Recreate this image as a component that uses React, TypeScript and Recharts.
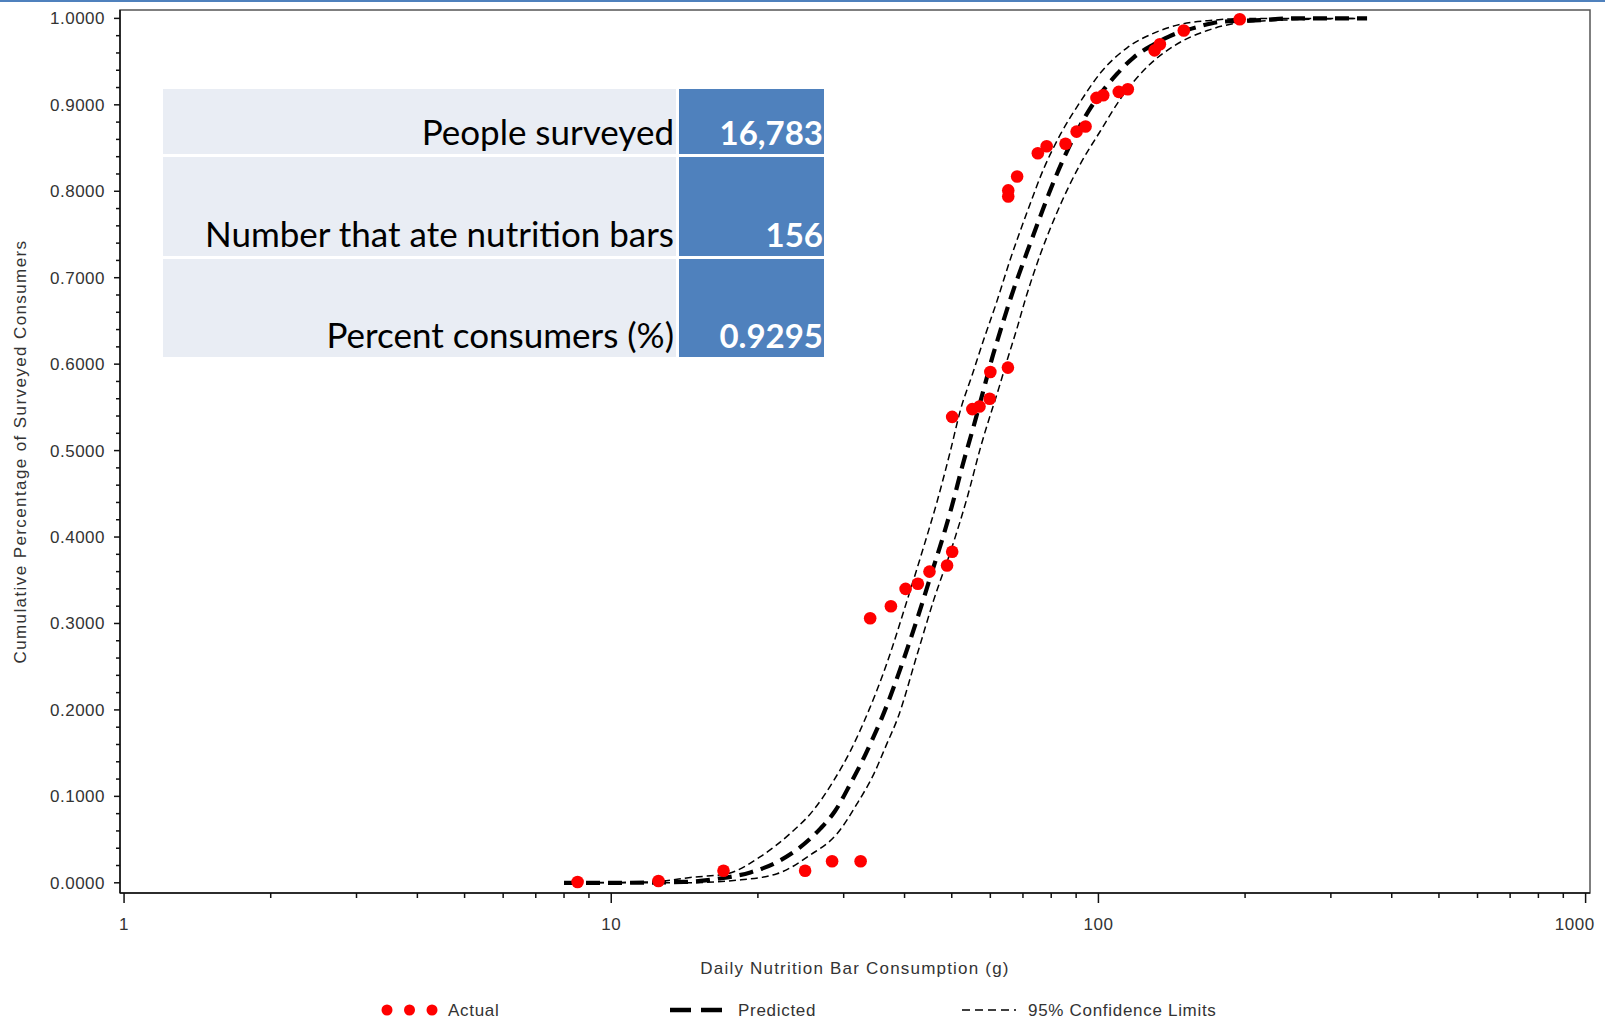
import { ComposedChart, Line, Scatter, XAxis, YAxis, ReferenceArea } from 'recharts';

// Observed cumulative share of consumers by daily intake (g)
const actualX = [8.53, 12.5, 17.0, 25.0, 28.4, 32.5, 34.0, 37.5, 40.2, 42.6, 45.0, 48.9, 50.1, 50.1, 55.1, 57.0, 59.8, 60.0, 65.2, 65.3, 65.3, 68.1, 75.1, 78.3, 85.6, 90.2, 94.1, 99.1, 102.3, 110.1, 114.9, 130.4, 133.7, 149.7, 195];
const actualY = [0.001, 0.002, 0.014, 0.014, 0.025, 0.025, 0.306, 0.32, 0.34, 0.346, 0.36, 0.367, 0.383, 0.539, 0.548, 0.551, 0.56, 0.591, 0.596, 0.794, 0.801, 0.817, 0.844, 0.852, 0.855, 0.869, 0.875, 0.908, 0.911, 0.915, 0.918, 0.963, 0.97, 0.986, 0.999];

// Fitted curve
const predictedX = [8.0, 10.3, 14.1, 16.7, 19.3, 21.9, 24.4, 26.9, 28.8, 31.0, 32.7, 34.3, 36.0, 39.8, 42.5, 45.2, 48.2, 50.1, 52.5, 55.5, 58.6, 60.5, 62.4, 63.9, 66.2, 71.4, 76.1, 79.1, 82.9, 86.0, 90.5, 95.5, 109.3, 118.2, 130, 139.5, 159.6, 178.2, 215, 252, 356];
const predictedY = [0, 0, 0.001, 0.005, 0.012, 0.024, 0.041, 0.063, 0.083, 0.115, 0.14, 0.165, 0.192, 0.258, 0.306, 0.354, 0.404, 0.437, 0.481, 0.529, 0.578, 0.607, 0.632, 0.651, 0.678, 0.73, 0.772, 0.797, 0.825, 0.845, 0.87, 0.893, 0.936, 0.955, 0.97, 0.979, 0.99, 0.996, 0.998, 1.0, 1.0];

// 95% confidence band
const upperX = [8.0, 12.0, 14.8, 17.3, 20.2, 23.3, 26.0, 28.6, 31.0, 33.0, 36.8, 40.5, 43.8, 46.7, 49.7, 52.1, 55.1, 58.2, 61.5, 66.0, 71.4, 77.2, 83.6, 91.9, 101, 114.5, 130, 147, 172.6, 202, 356];
const upperY = [0, 0.001, 0.0066, 0.0105, 0.03, 0.057, 0.084, 0.118, 0.153, 0.186, 0.254, 0.327, 0.389, 0.442, 0.5, 0.547, 0.588, 0.629, 0.668, 0.722, 0.776, 0.826, 0.866, 0.904, 0.937, 0.966, 0.983, 0.993, 0.998, 1.0, 1.0];
const lowerX = [8.0, 14.0, 18.1, 21.9, 25.6, 29.1, 32.0, 34.6, 36.8, 38.7, 42.5, 45.9, 50.1, 53.8, 57.3, 62.9, 65.0, 68.1, 70.8, 76.1, 82.3, 91.9, 101, 111, 126, 142.8, 167.3, 195.8, 240, 356];
const lowerY = [0, 0, 0.003, 0.0105, 0.032, 0.057, 0.092, 0.126, 0.161, 0.19, 0.265, 0.327, 0.389, 0.446, 0.504, 0.578, 0.605, 0.642, 0.675, 0.728, 0.776, 0.832, 0.87, 0.907, 0.944, 0.968, 0.986, 0.995, 0.998, 1.0];

const xMajorTicks = [1, 10, 100, 1000];
const xMinorTicks = [2, 3, 4, 5, 6, 7, 8, 9, 20, 30, 40, 50, 60, 70, 80, 90, 200, 300, 400, 500, 600, 700, 800, 900];
const yMajorTicks = [0, 0.1, 0.2, 0.3, 0.4, 0.5, 0.6, 0.7, 0.8, 0.9, 1];
const yMinorTicks = [
  0.02, 0.04, 0.06, 0.08, 0.12, 0.14, 0.16, 0.18, 0.22, 0.24, 0.26, 0.28, 0.32, 0.34, 0.36, 0.38,
  0.42, 0.44, 0.46, 0.48, 0.52, 0.54, 0.56, 0.58, 0.62, 0.64, 0.66, 0.68, 0.72, 0.74, 0.76, 0.78,
  0.82, 0.84, 0.86, 0.88, 0.92, 0.94, 0.96, 0.98,
];

const tableLabels = ['People surveyed', 'Number that ate nutrition bars', 'Percent consumers (%)'];
const tableValues = ['16,783', '156', '0.9295'];

const toPoints = (xs: number[], ys: number[]) => xs.map((x, i) => ({ x, y: ys[i] }));
const actual = toPoints(actualX, actualY);
const predicted = toPoints(predictedX, predictedY);
const upper = toPoints(upperX, upperY);
const lower = toPoints(lowerX, lowerY);

const xDomain = [0.981, 1021];
const yDomain = [-0.0118, 1.0097];

const FONT = '"Liberation Sans", Arial, sans-serif';
const TEXT = '#333';

const XTick = ({ x, y, payload }: any) => {
  const v = payload.value;
  const major = xMajorTicks.includes(v);
  const last = v === 1000;
  return (
    <g>
      <line x1={x} x2={x} y1={y} y2={y + (major ? 10 : 5)} stroke="#111" strokeWidth={1.5} />
      {major && (
        <text x={last ? x + 9 : x} y={y + 37} textAnchor={last ? 'end' : 'middle'} fontFamily={FONT} fontSize={17} letterSpacing={0.5} fill={TEXT}>
          {v}
        </text>
      )}
    </g>
  );
};

const YTick = ({ x, y, payload }: any) => {
  const v = payload.value;
  const major = yMajorTicks.includes(v);
  return (
    <g>
      <line x1={x - (major ? 6 : 4)} x2={x} y1={y} y2={y} stroke="#111" strokeWidth={1.5} />
      {major && (
        <text x={x - 15} y={y + 6} textAnchor="end" fontFamily={FONT} fontSize={17} letterSpacing={0.5} fill={TEXT}>
          {v.toFixed(4)}
        </text>
      )}
    </g>
  );
};

const Dot = (p: any) => <circle cx={p.cx} cy={p.cy} r={6.3} fill="#ff0000" />;

const rows = [
  { top: 89, bottom: 154 },
  { top: 157, bottom: 256 },
  { top: 259, bottom: 357 },
];

export default function App() {
  return (
    <div style={{ position: 'absolute', left: 0, top: 0, width: 1605, height: 1019, background: '#fff', overflow: 'hidden' }}>
      <ComposedChart width={1605} height={1019} margin={{ top: 10, right: 15, bottom: 86, left: 40 }}>
        <XAxis
          type="number"
          dataKey="x"
          scale="log"
          domain={xDomain}
          allowDataOverflow
          ticks={[...xMajorTicks, ...xMinorTicks].sort((a, b) => a - b)}
          interval={0}
          tickSize={0}
          tickMargin={0}
          tick={<XTick />}
          tickLine={false}
          axisLine={{ stroke: '#111', strokeWidth: 1.5 }}
          height={40}
          label={({ viewBox }: any) => (
            <text x={viewBox.x + viewBox.width / 2} y={viewBox.y + 81} textAnchor="middle" fontFamily={FONT} fontSize={17} letterSpacing={1.2} fill={TEXT}>
              Daily Nutrition Bar Consumption (g)
            </text>
          )}
        />
        <YAxis
          type="number"
          dataKey="y"
          domain={yDomain}
          allowDataOverflow
          ticks={[...yMajorTicks, ...yMinorTicks].sort((a, b) => a - b)}
          interval={0}
          tickSize={0}
          tickMargin={0}
          tick={<YTick />}
          tickLine={false}
          axisLine={{ stroke: '#111', strokeWidth: 1.5 }}
          width={80}
          label={({ viewBox }: any) => {
            const cx = viewBox.x - 20;
            const cy = viewBox.y + viewBox.height / 2;
            return (
              <text x={cx} y={cy} transform={`rotate(-90 ${cx} ${cy})`} textAnchor="middle" dominantBaseline="central" fontFamily={FONT} fontSize={17} letterSpacing={1.4} fill={TEXT}>
                Cumulative Percentage of Surveyed Consumers
              </text>
            );
          }}
        />
        <ReferenceArea x1={xDomain[0]} x2={xDomain[1]} y1={yDomain[0]} y2={yDomain[1]} fill="none" stroke="#555" strokeWidth={1.5} ifOverflow="visible" />
        <Line data={upper} dataKey="y" type="monotone" stroke="#000" strokeWidth={1.5} strokeDasharray="7 4" dot={false} activeDot={false} isAnimationActive={false} />
        <Line data={lower} dataKey="y" type="monotone" stroke="#000" strokeWidth={1.5} strokeDasharray="7 4" dot={false} activeDot={false} isAnimationActive={false} />
        <Line data={predicted} dataKey="y" type="monotone" stroke="#000" strokeWidth={4.2} strokeDasharray="14 8" dot={false} activeDot={false} isAnimationActive={false} />
        <Scatter data={actual} dataKey="y" shape={<Dot />} isAnimationActive={false} />
      </ComposedChart>

      <svg width={1605} height={1019} style={{ position: 'absolute', left: 0, top: 0, pointerEvents: 'none' }}>
        <rect x={0} y={0} width={1605} height={2} fill="#4f81bd" />

        {rows.map((r, i) => (
          <g key={i}>
            <rect x={163} y={r.top} width={513} height={r.bottom - r.top} fill="#e9edf4" />
            <rect x={679} y={r.top} width={145} height={r.bottom - r.top} fill="#4f81bd" />
            <text x={674} y={r.bottom - 9} textAnchor="end" fontFamily="Lato, sans-serif" fontSize={35} fill="#000">
              {tableLabels[i]}
            </text>
            <text x={823} y={r.bottom - 9} textAnchor="end" fontFamily="Lato, sans-serif" fontWeight="bold" fontSize={33} fill="#fff">
              {tableValues[i]}
            </text>
          </g>
        ))}

        <g fontFamily={FONT} fontSize={17} letterSpacing={0.7} fill={TEXT}>
          <circle cx={387} cy={1010} r={5.5} fill="#ff0000" />
          <circle cx={409.5} cy={1010} r={5.5} fill="#ff0000" />
          <circle cx={432} cy={1010} r={5.5} fill="#ff0000" />
          <text x={448} y={1016}>Actual</text>
          <line x1={670} x2={722} y1={1010} y2={1010} stroke="#000" strokeWidth={4.5} strokeDasharray="21 10" />
          <text x={738} y={1016}>Predicted</text>
          <line x1={962} x2={1016} y1={1010} y2={1010} stroke="#000" strokeWidth={1.5} strokeDasharray="8 5" />
          <text x={1028} y={1016}>95% Confidence Limits</text>
        </g>
      </svg>
    </div>
  );
}
